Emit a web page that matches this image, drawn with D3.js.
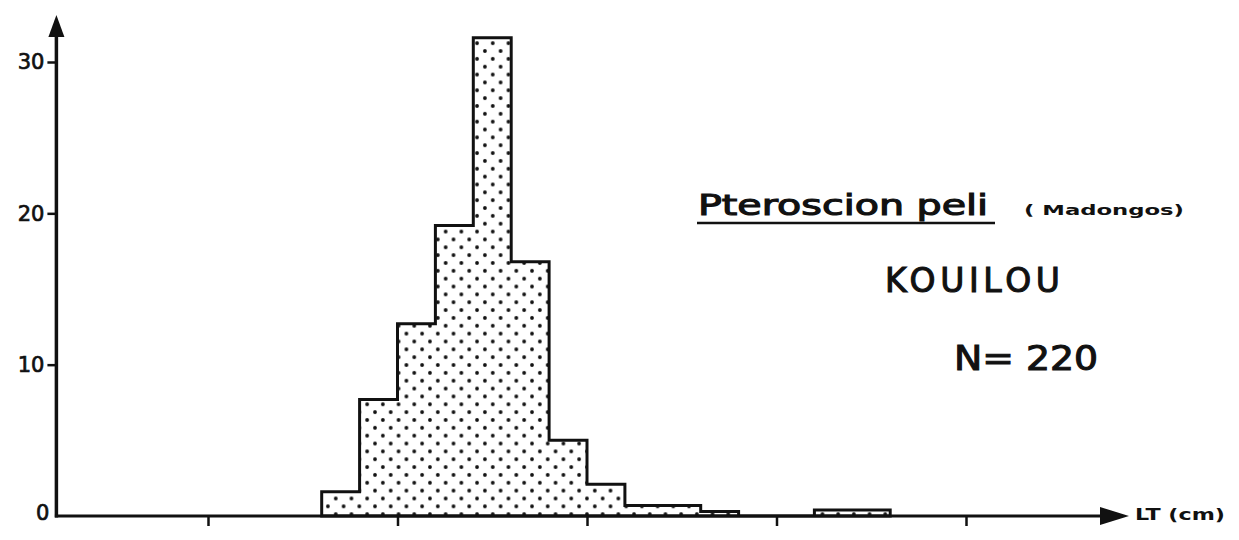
<!DOCTYPE html>
<html>
<head>
<meta charset="utf-8">
<script src="https://cdn.jsdelivr.net/npm/d3@7"></script>
<style>
  body { margin: 0; background: #fff; }
  svg { display: block; }
  text { font-family: "DejaVu Sans", sans-serif; fill: #111; }
</style>
</head>
<body>
<div id="chart"></div>
<script>
// Data: length classes (cm, lower edge) and percentage per class
var binStarts = [16, 18, 20, 22, 24, 26, 28, 30, 32, 34, 36, 38, 40, 42, 44];
var binWidth = 2;
var percents = [1.6, 7.7, 12.7, 19.2, 31.6, 16.8, 5.0, 2.1, 0.7, 0.7, 0.3, 0, 0, 0.4, 0.4];
var yTicks = [0, 10, 20, 30];
var xTicks = [10, 20, 30, 40, 50];

var svgWidth = 1239;
var svgHeight = 540;

var svg = d3.select("#chart")
  .append("svg")
  .attr("width", svgWidth)
  .attr("height", svgHeight);

// Step 1: scales
// ==============================
var xScale = d3.scaleLinear()
  .domain([10, 50])
  .range([208, 966]);

var yScale = d3.scaleLinear()
  .domain([0, 30])
  .range([516, 62]);

var x0 = xScale(2);   // where the y axis stands

// dotted fill
var defs = svg.append("defs");
var pat = defs.append("pattern")
  .attr("id", "dots")
  .attr("patternUnits", "userSpaceOnUse")
  .attr("width", 15.7)
  .attr("height", 15.7)
  .attr("x", 324)
  .attr("y", 0);
pat.append("circle").attr("cx", 3.9).attr("cy", 3.9).attr("r", 1.9).attr("fill", "#111");
pat.append("circle").attr("cx", 11.75).attr("cy", 11.75).attr("r", 1.9).attr("fill", "#111");

// Step 2: histogram as a stepped area
// ==============================
var pts = binStarts.map(function(d, i) { return [d, percents[i]]; });
var last = binStarts.length - 1;
pts.push([binStarts[last] + binWidth, percents[last]]);

var area = d3.area()
  .curve(d3.curveStepAfter)
  .x(d => xScale(d[0]))
  .y0(yScale(0))
  .y1(d => yScale(d[1]));

svg.append("path")
  .datum(pts)
  .attr("d", area)
  .attr("fill", "url(#dots)")
  .attr("stroke", "#111")
  .attr("stroke-width", 3)
  .attr("stroke-linejoin", "miter");

// Step 3: axes
// ==============================
var leftAxis = d3.axisLeft(yScale)
  .tickValues(yTicks)
  .tickSize(9)
  .tickPadding(3)
  .tickFormat(d3.format("d"));

var yAxisG = svg.append("g")
  .attr("transform", `translate(${x0}, 0)`)
  .call(leftAxis);
yAxisG.select(".domain").remove();
yAxisG.selectAll("line").attr("stroke", "#111").attr("stroke-width", 2.5);
yAxisG.selectAll(".tick").filter(d => d === 0).select("line").remove();
yAxisG.selectAll("text")
  .style("font-size", "21px")
  .style("font-family", "DejaVu Sans, sans-serif")
  .attr("fill", "#111")
  .attr("stroke", "#111")
  .attr("stroke-width", 0.7);
yAxisG.selectAll(".tick").filter(d => d === 0).select("text").attr("x", -7).attr("dy", "0.15em");

var bottomAxis = d3.axisBottom(xScale)
  .tickValues(xTicks)
  .tickSize(10)
  .tickFormat("");

var xAxisG = svg.append("g")
  .attr("transform", `translate(0, ${yScale(0)})`)
  .call(bottomAxis);
xAxisG.select(".domain").remove();
xAxisG.selectAll("line").attr("stroke", "#111").attr("stroke-width", 2.5);

// axis lines with arrow heads
svg.append("line")
  .attr("x1", x0).attr("y1", yScale(0) + 1.5)
  .attr("x2", x0).attr("y2", 32)
  .attr("stroke", "#111").attr("stroke-width", 3.5);
svg.append("path")
  .attr("d", `M${x0},15 L${x0 - 8},37 L${x0 + 8},37 Z`)
  .attr("fill", "#111");

svg.append("line")
  .attr("x1", x0 - 1.5).attr("y1", yScale(0))
  .attr("x2", 1105).attr("y2", yScale(0))
  .attr("stroke", "#111").attr("stroke-width", 3);
svg.append("path")
  .attr("d", `M1129,${yScale(0)} L1100,${yScale(0) - 9} L1100,${yScale(0) + 9} Z`)
  .attr("fill", "#111");

svg.append("text")
  .attr("x", 1135).attr("y", 520)
  .attr("textLength", 90)
  .attr("lengthAdjust", "spacingAndGlyphs")
  .style("font-size", "16px")
  .style("font-weight", "bold")
  .text("LT (cm)");

// Step 4: annotations
// ==============================
svg.append("text")
  .attr("x", 698).attr("y", 215)
  .attr("textLength", 290)
  .attr("lengthAdjust", "spacingAndGlyphs")
  .style("font-size", "28px")
  .attr("stroke", "#111")
  .attr("stroke-width", 1.1)
  .text("Pteroscion peli");

svg.append("line")
  .attr("x1", 697).attr("y1", 223)
  .attr("x2", 995).attr("y2", 223)
  .attr("stroke", "#111").attr("stroke-width", 2.5);

svg.append("text")
  .attr("x", 1024).attr("y", 215)
  .attr("textLength", 160)
  .attr("lengthAdjust", "spacingAndGlyphs")
  .style("font-size", "14px")
  .style("font-weight", "bold")
  .text("( Madongos)");

svg.append("text")
  .attr("x", 885).attr("y", 292)
  .attr("textLength", 175)
  .attr("lengthAdjust", "spacing")
  .style("font-size", "33px")
  .attr("stroke", "#111")
  .attr("stroke-width", 1.1)
  .text("KOUILOU");

svg.append("text")
  .attr("x", 954).attr("y", 370)
  .attr("textLength", 144)
  .attr("lengthAdjust", "spacingAndGlyphs")
  .style("font-size", "34px")
  .attr("stroke", "#111")
  .attr("stroke-width", 1.1)
  .text("N= 220");
</script>
</body>
</html>
